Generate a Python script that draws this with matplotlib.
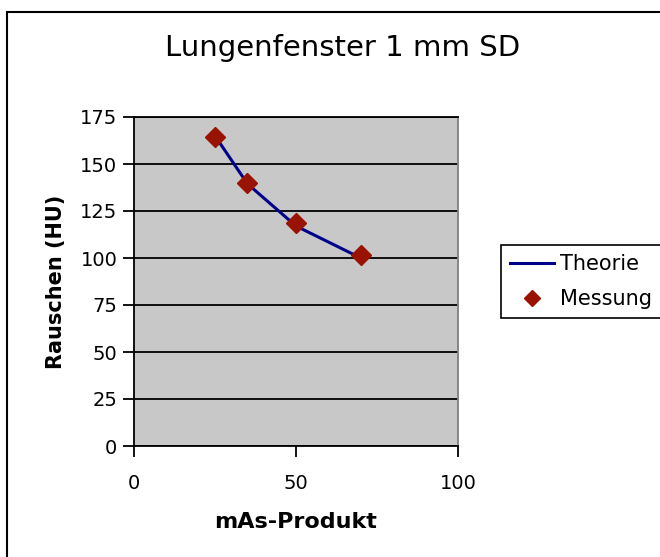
import matplotlib.pyplot as plt
from matplotlib.patches import Rectangle

# -------------------------------
# Data
# -------------------------------
mas_theorie = [25, 35, 50, 70]
rauschen_theorie = [165, 139.5, 117, 100]

mas_messung = [25, 35, 50, 70]
rauschen_messung = [164.5, 139.7, 118.8, 101.6]

y_ticks = [0, 25, 50, 75, 100, 125, 150, 175]
x_ticks = [0, 50, 100]

plt.rcParams['font.family'] = ['DejaVu Sans']

fig = plt.figure(figsize=(6.6, 5.57), dpi=100)

# outer chart border (runs past the right and bottom edges)
fig.patches.append(Rectangle((7 / 660, -0.2), 2.0, 0.2 + 1 - 12 / 557,
                             transform=fig.transFigure, fill=False,
                             edgecolor='black', linewidth=1.5, zorder=0))

ax = fig.add_axes([134 / 660, 1 - 446 / 557, 324 / 660, 329 / 557])
ax.set_facecolor('#C8C8C8')

ax.plot(mas_theorie, rauschen_theorie, color='#00008B', linewidth=2.2,
        label='Theorie', zorder=3)
ax.plot(mas_messung, rauschen_messung, linestyle='none', marker='D',
        markersize=10, color='#9A1200', label='Messung', zorder=4)

ax.set_xlim(0, 100)
ax.set_ylim(0, 175)
ax.set_xticks(x_ticks)
ax.set_yticks(y_ticks)
ax.grid(axis='y', color='black', linewidth=1.3)
ax.set_axisbelow(True)

for s in ax.spines.values():
    s.set_color('black')
    s.set_linewidth(1.3)
ax.spines['right'].set_color('#808080')

ax.tick_params(axis='both', labelsize=14, length=8, width=1.3, direction='out')
ax.tick_params(axis='x', pad=12)
ax.tick_params(axis='y', pad=4)

ax.set_xlabel('mAs-Produkt', fontsize=16, fontweight='bold', labelpad=14)
ax.set_ylabel('Rauschen (HU)', fontsize=15, fontweight='bold', labelpad=10)

fig.text(343 / 660, 1 - 48 / 557, 'Lungenfenster 1 mm SD', fontsize=21,
         ha='center', va='center')

leg = fig.legend(loc='upper left', bbox_to_anchor=(501 / 660, 1 - 245 / 557),
                 fontsize=15, frameon=True, fancybox=False, framealpha=1,
                 borderpad=0.45, borderaxespad=0, handlelength=2.1,
                 handletextpad=0.3, labelspacing=0.7, markerscale=0.8)
leg.get_frame().set_edgecolor('black')
leg.get_frame().set_linewidth(1.2)

plt.savefig('out.png', dpi=100)
